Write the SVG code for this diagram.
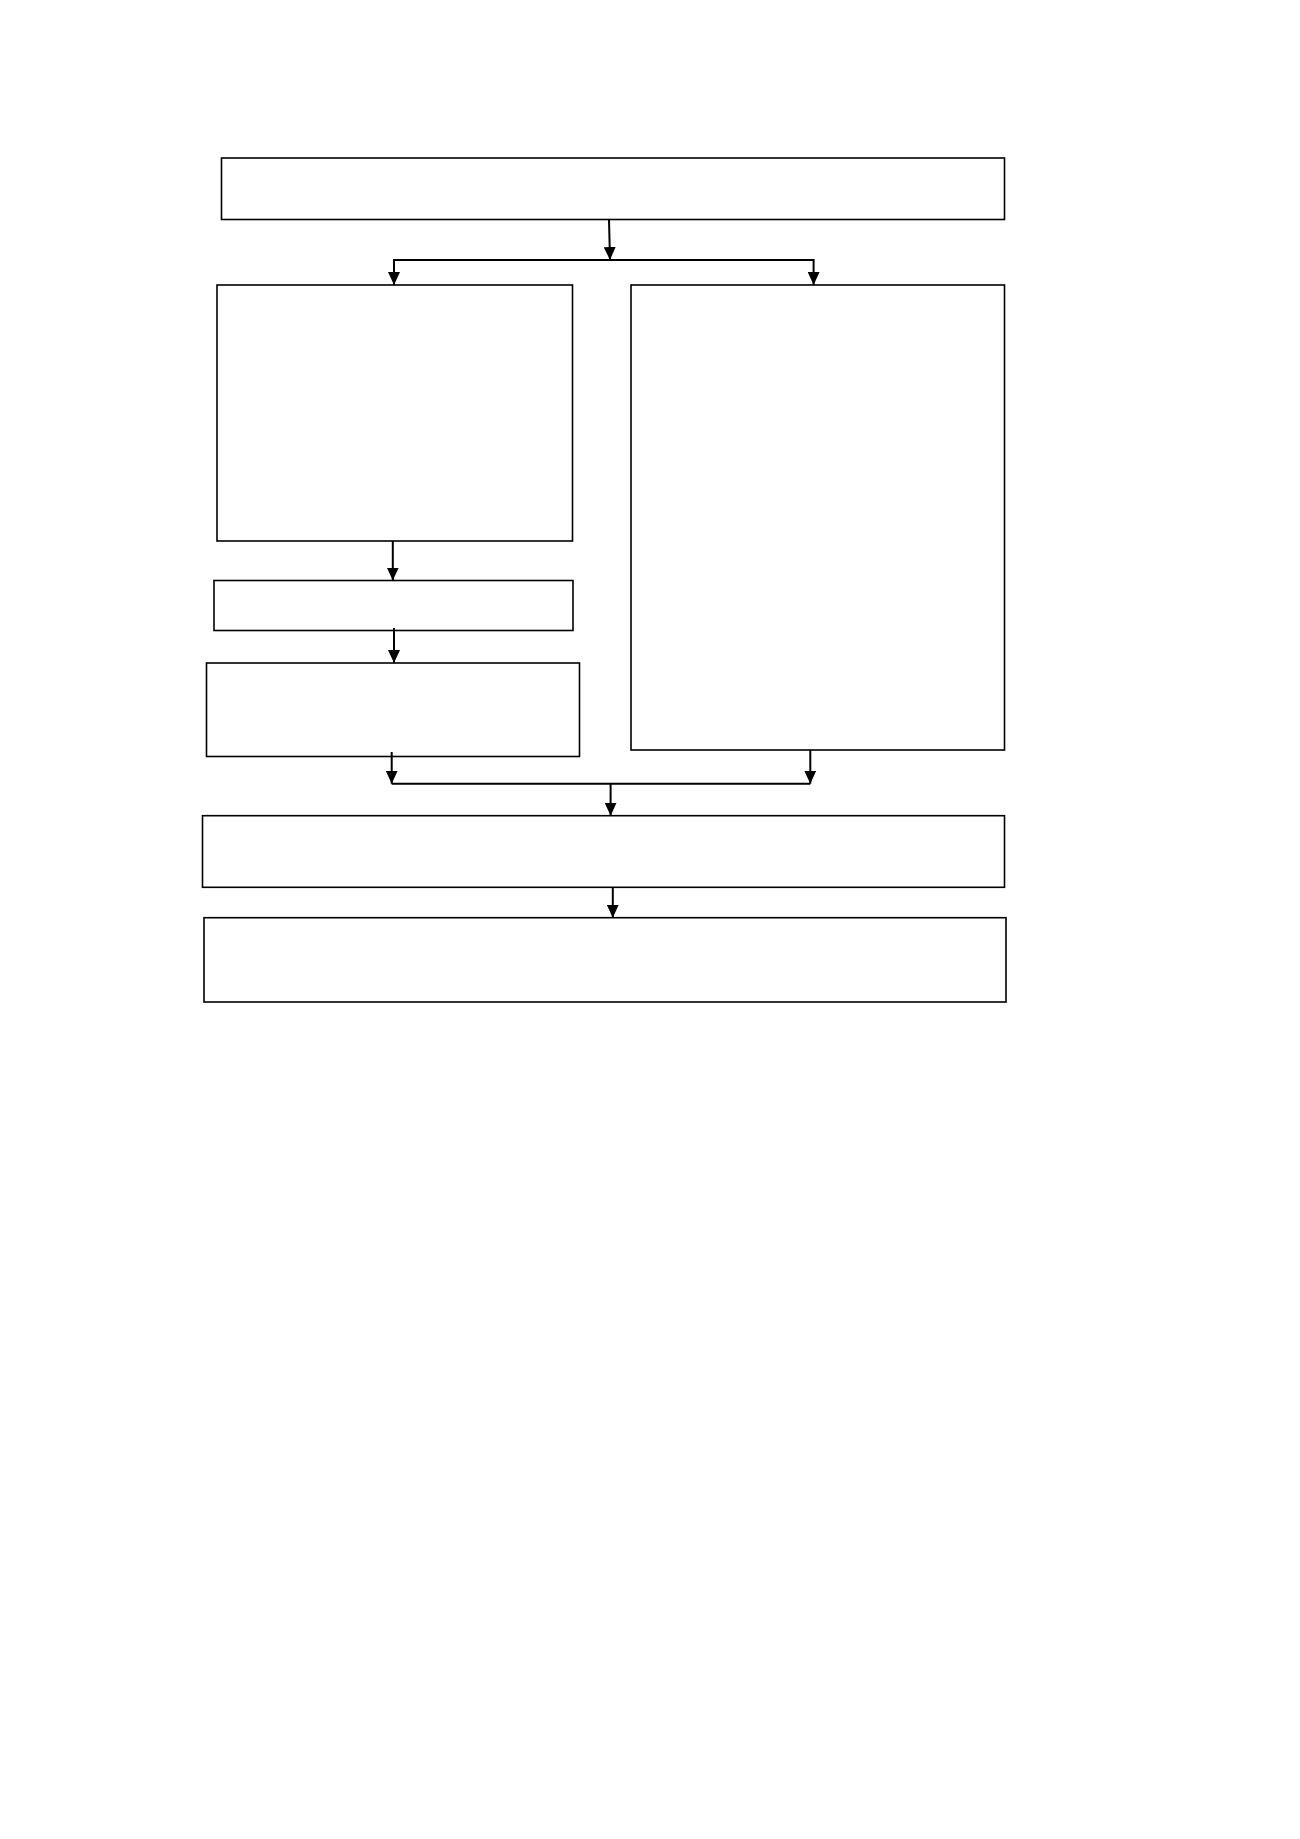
<svg xmlns="http://www.w3.org/2000/svg" width="1300" height="1839" viewBox="0 0 1300 1839">
<style>
.box{fill:#ffffff;stroke:#000000;stroke-width:1.6}
.con{fill:none;stroke:#000000;stroke-width:2}
</style>
<defs>
<marker id="arr" viewBox="0 0 13 12" refX="13" refY="6" markerWidth="13" markerHeight="12" markerUnits="userSpaceOnUse" orient="auto" preserveAspectRatio="none">
<path d="M0,0 L13,6 L0,12 z" fill="#000000"/>
</marker>
</defs>
<rect width="1300" height="1839" fill="#ffffff"/>
<g id="node-top"><rect class="box" x="221.5" y="158" width="783" height="61.5"/></g>
<g id="node-left1"><rect class="box" x="217" y="285" width="355.5" height="256"/></g>
<g id="node-right"><rect class="box" x="631" y="285" width="373.5" height="465"/></g>
<g id="node-left2"><rect class="box" x="214" y="580.5" width="359" height="50"/></g>
<g id="node-left3"><rect class="box" x="206.5" y="663" width="373" height="93.5"/></g>
<g id="node-merge"><rect class="box" x="202.5" y="815.7" width="802" height="71.6"/></g>
<g id="node-bottom"><rect class="box" x="204" y="917.7" width="802" height="84.3"/></g>
<g id="connectors">
<path class="con" d="M609,219.5 L610,260" marker-end="url(#arr)"/>
<path class="con" d="M610,260 H394 V285" marker-end="url(#arr)"/>
<path class="con" d="M610,260 H813.6 V285" marker-end="url(#arr)"/>
<path class="con" d="M392.8,541 V580.5" marker-end="url(#arr)"/>
<path class="con" d="M394,628 V663" marker-end="url(#arr)"/>
<path class="con" d="M391.7,752 V783.7" marker-end="url(#arr)"/>
<path class="con" d="M810.3,750 V783.7" marker-end="url(#arr)"/>
<path class="con" d="M391.7,783.7 H810.3"/>
<path class="con" d="M610.6,783.7 V815.7" marker-end="url(#arr)"/>
<path class="con" d="M612.8,887.3 V917.7" marker-end="url(#arr)"/>
</g>
</svg>
